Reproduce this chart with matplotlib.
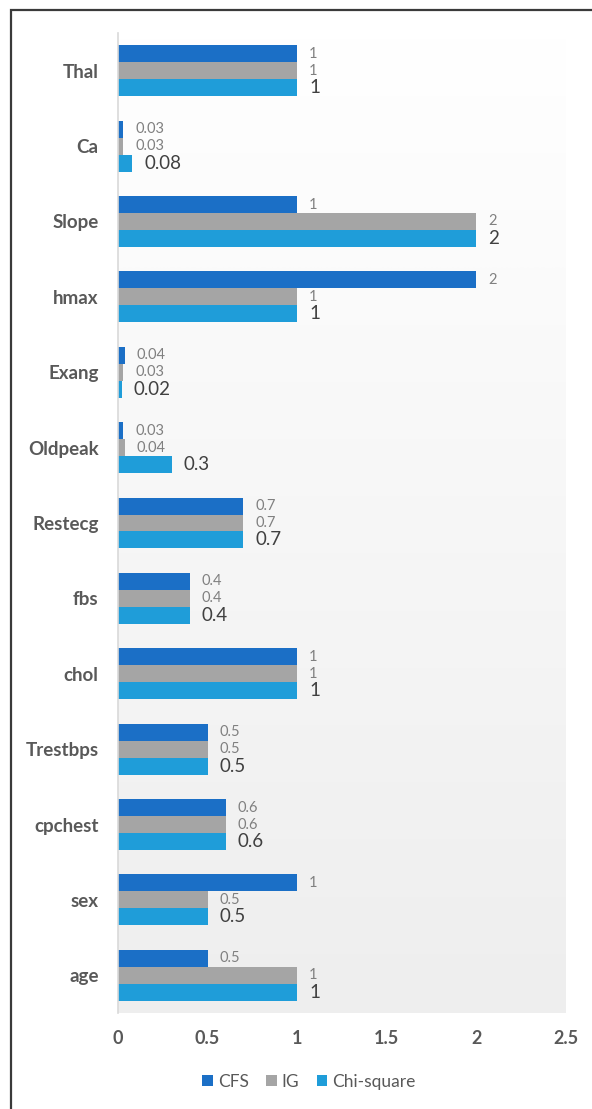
import numpy as np
import matplotlib
matplotlib.use("Agg")
import matplotlib.pyplot as plt
from matplotlib.colors import LinearSegmentedColormap
from matplotlib.patches import Rectangle, Patch

# Feature names, bottom to top
features = ["age", "sex", "cpchest", "Trestbps", "chol", "fbs", "Restecg",
            "Oldpeak", "Exang", "hmax", "Slope", "Ca", "Thal"]
cfs = [0.5, 1, 0.6, 0.5, 1, 0.4, 0.7, 0.03, 0.04, 2, 1, 0.03, 1]
ig = [1, 0.5, 0.6, 0.5, 1, 0.4, 0.7, 0.04, 0.03, 1, 2, 0.03, 1]
chi_square = [1, 0.5, 0.6, 0.5, 1, 0.4, 0.7, 0.3, 0.02, 1, 2, 0.08, 1]
series_names = ["CFS", "IG", "Chi-square"]
x_ticks = [0, 0.5, 1, 1.5, 2, 2.5]

colors = ["#1b6fc6", "#a5a5a5", "#1f9dd9"]
label_font = "Lato"
text_gray = "#595959"

W, H = 592, 1109
fig = plt.figure(figsize=(W / 100, H / 100), dpi=100)
fig.patch.set_facecolor("white")

ax = fig.add_axes([118 / W, 1 - 1013 / H, (566 - 118) / W, (1013 - 33) / H])
ax.set_facecolor("white")

# soft vertical gradient behind the bars
grad_cmap = LinearSegmentedColormap.from_list("bg", ["#ffffff", "#eeeeee"])
ax.imshow(np.linspace(0, 1, 256).reshape(-1, 1), extent=[0, 2.5, -0.5, 12.5],
          aspect="auto", cmap=grad_cmap, zorder=0, interpolation="bilinear")

y = np.arange(len(features))
h = 0.225
offsets = [h, 0, -h]
for vals, off, col, name in zip([cfs, ig, chi_square], offsets, colors, series_names):
    ax.barh(y + off, vals, height=h, color=col, zorder=2, label=name)

# value labels: small grey for CFS / IG, larger dark for Chi-square
for i in range(len(features)):
    for vals, off, k in zip([cfs, ig, chi_square], offsets, range(3)):
        v = vals[i]
        if k < 2:
            ax.annotate(f"{v:g}", xy=(v, i + off), xytext=(8.5, 0),
                        textcoords="offset points", va="center", ha="left",
                        fontsize=10.5, color="#808080", family=label_font,
                        zorder=3)
        else:
            ax.annotate(f"{v:g}", xy=(v, i + off), xytext=(8.5, 0),
                        textcoords="offset points", va="center", ha="left",
                        fontsize=13.5, color="#404040", family=label_font,
                        zorder=3)

ax.set_xlim(0, 2.5)
ax.set_ylim(-0.5, 12.5)
ax.set_yticks(y)
ax.set_yticklabels(features, fontsize=13.5, fontweight="bold", color=text_gray,
                   family=label_font)
ax.set_xticks(x_ticks)
ax.set_xticklabels([f"{t:g}" for t in x_ticks], fontsize=13, fontweight="bold",
                   color=text_gray, family=label_font)
ax.tick_params(axis="y", length=0, pad=14)
ax.tick_params(axis="x", length=0, pad=12)
for s in ["top", "right", "bottom"]:
    ax.spines[s].set_visible(False)
ax.spines["left"].set_color("#d9d9d9")
ax.spines["left"].set_linewidth(1.2)
ax.spines["left"].set_zorder(4)

handles = [Patch(facecolor=c, edgecolor="none") for c in colors]
fig.legend(handles, series_names, loc="center", bbox_to_anchor=(309 / W, 1 - 1082 / H),
           ncol=3, frameon=False, handlelength=0.6, handleheight=0.6,
           handletextpad=0.3, columnspacing=1.0,
           prop={"family": label_font, "size": 12.5}, labelcolor=text_gray)

# outer frame
fig.patches.append(Rectangle((11 / W, -0.1), 1.2, 1 - 10 / H + 0.1,
                             transform=fig.transFigure, fill=False,
                             edgecolor="#3a3a3a", linewidth=1.6, zorder=10))

fig.savefig("out.png", dpi=100)
